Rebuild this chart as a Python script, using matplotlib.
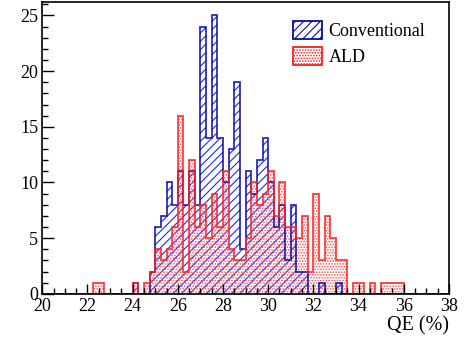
import numpy as np
import matplotlib
matplotlib.use('Agg')
import matplotlib.pyplot as plt
from matplotlib.patches import Patch
from matplotlib.ticker import MultipleLocator

plt.rcParams['font.family'] = ['Liberation Serif', 'DejaVu Serif']
plt.rcParams['hatch.linewidth'] = 0.8

# Histogram binning: 72 bins of 0.25 % between 20 and 38
edges = np.linspace(20, 38, 73)

# Counts per bin (bin i starts at 20 + 0.25*i)
conventional = [0] * 16 + [
    1, 0, 0, 2, 6, 7, 10, 8,        # 24.0 - 26.0
    11, 8, 11, 8, 24, 14, 25, 14,   # 26.0 - 28.0
    10, 13, 19, 4, 11, 9, 12, 14,   # 28.0 - 30.0
    10, 6, 8, 3, 8, 2, 2, 0,        # 30.0 - 32.0
    0, 1, 0, 0, 1,                  # 32.0 - 33.25
] + [0] * 19

ald = [0] * 9 + [1, 1] + [0] * 5 + [
    1, 0, 1, 2, 4, 3, 4, 6,         # 24.0 - 26.0
    16, 2, 12, 6, 8, 5, 9, 6,       # 26.0 - 28.0
    11, 4, 3, 3, 5, 10, 8, 9,       # 28.0 - 30.0
    11, 7, 10, 6, 6, 5, 7, 2,       # 30.0 - 32.0
    9, 3, 7, 5, 3, 3, 0, 1,         # 32.0 - 34.0
    1, 0, 1, 0, 1, 1, 1, 1,         # 34.0 - 36.0
] + [0] * 8

colours = {'conv': '#0a0aa8', 'ald': '#ff2020'}

fig = plt.figure(figsize=(4.70, 3.49), dpi=100)
ax = fig.add_axes([0.09, 0.158, 0.865, 0.836])

# Filled patterns
ax.stairs(conventional, edges, fill=True, facecolor='none', edgecolor='#1a2aff',
          linewidth=0, hatch='////')
ax.stairs(ald, edges, fill=True, facecolor='none', edgecolor='#ff5050',
          linewidth=0, hatch='......')

# Outlines
ax.stairs(conventional, edges, color=colours['conv'], linewidth=1.3, alpha=0.85)
ax.stairs(ald, edges, color=colours['ald'], linewidth=1.3, alpha=0.85)

ax.set_xlim(20, 38)
ax.set_ylim(0, 26.2)
ax.xaxis.set_major_locator(MultipleLocator(2))
ax.xaxis.set_minor_locator(MultipleLocator(0.5))
ax.yaxis.set_major_locator(MultipleLocator(5))
ax.yaxis.set_minor_locator(MultipleLocator(1))
ax.tick_params(which='both', direction='in', top=False, right=False,
               labelsize=13, width=1)
ax.tick_params(axis='y', which='major', length=8.5, pad=3)
ax.tick_params(axis='y', which='minor', length=4.5)
ax.tick_params(axis='x', which='major', length=7, pad=3)
ax.tick_params(axis='x', which='minor', length=4)
for s in ax.spines.values():
    s.set_linewidth(1.2)

ax.set_xlabel('QE (%)', fontsize=14.5, loc='right', labelpad=1)

handles = [
    Patch(facecolor='none', edgecolor=colours['conv'], hatch='////', linewidth=1.3),
    Patch(facecolor='none', edgecolor=colours['ald'], hatch='......', linewidth=1.3),
]
ax.legend(handles, ['Conventional', 'ALD'], loc='upper left',
          bbox_to_anchor=(0.6, 0.96), frameon=False, fontsize=13,
          handlelength=1.6, handleheight=1.2, labelspacing=0.35,
          handletextpad=0.35, borderaxespad=0)

fig.savefig('out.png', dpi=100)
